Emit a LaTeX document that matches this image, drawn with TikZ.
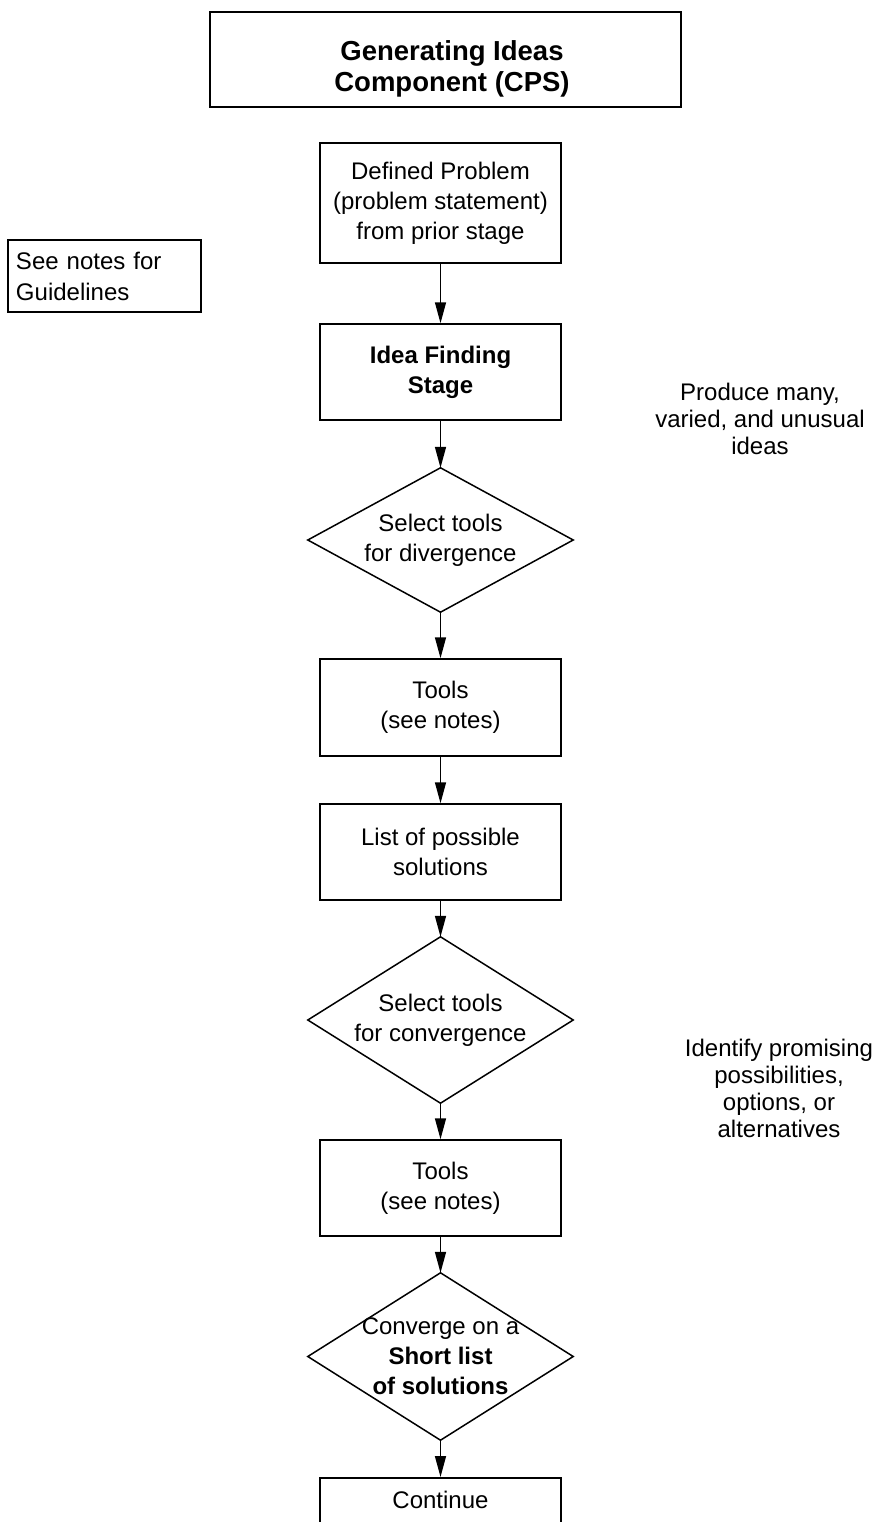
\documentclass[tikz,border=0pt]{standalone}
\usepackage{fontspec}
\setmainfont{Liberation Sans}
\usetikzlibrary{arrows.meta}
\begin{document}
\begin{tikzpicture}[x=1pt,y=-1pt,
  every node/.style={font=\fontsize{24}{30}\selectfont, align=center, inner sep=0pt},
  box/.style={draw, line width=1.5pt, minimum width=241pt},
  dia/.style={minimum width=265pt},
  diaedge/.style={line width=1.5pt, line join=miter},
  side/.style={font=\fontsize{24}{27}\selectfont},
  conn/.style={line width=1.5pt, -{Triangle[length=21pt,width=11pt]}}
]
\useasboundingbox (0,0) rectangle (877,1522);
\clip (0,0) rectangle (877,1522);

% title
\node[draw, line width=1.8pt, minimum width=471pt, minimum height=95pt] (title) at (445.5,59.5) {};
\node[font=\fontsize{27.5}{31}\selectfont\bfseries] (titletext) at (452,69) {Generating Ideas\\Component (CPS)};

% notes box
\node[draw, line width=1.5pt, text width=177pt, inner xsep=8pt, minimum height=72pt, align=left,
      font=\fontsize{24}{31}\selectfont] (notes) at (104.5,276) {See notes for\\Guidelines};

% main column
\node[box, minimum height=120pt] (def) at (440.5,203) {Defined Problem\\(problem statement)\\from prior stage};
\node[box, minimum height=96pt, font=\fontsize{24}{30}\selectfont\bfseries] (idea) at (440.5,372) {Idea Finding\\Stage};
\node[dia, minimum height=144pt] (d1) at (440.5,540) {Select tools\\for divergence};
\node[box, minimum height=97pt] (t1) at (440.5,707.5) {Tools\\(see notes)};
\node[box, minimum height=96pt] (list) at (440.5,852) {List of possible\\solutions};
\node[dia, minimum height=166pt] (d2) at (440.5,1020) {Select tools\\for convergence};
\node[box, minimum height=96pt] (t2) at (440.5,1188) {Tools\\(see notes)};
\node[dia, minimum height=167pt] (d3) at (440.5,1356.5) {Converge on a\\\textbf{Short list}\\\textbf{of solutions}};
\node[box, minimum height=90pt, anchor=north] (cont) at (440.5,1477) {};
\node (conttext) at (440.5,1500) {Continue};

% diamond outlines
\draw[diaedge] (d1.north) -- (d1.east) -- (d1.south) -- (d1.west) -- cycle;
\draw[diaedge] (d2.north) -- (d2.east) -- (d2.south) -- (d2.west) -- cycle;
\draw[diaedge] (d3.north) -- (d3.east) -- (d3.south) -- (d3.west) -- cycle;

% side notes
\node[side] (produce) at (760,419) {Produce many,\\varied, and unusual\\ideas};
\node[side] (identify) at (779,1088) {Identify promising\\possibilities,\\options, or\\alternatives};

% connectors
\draw[conn] (def.south) -- (idea.north);
\draw[conn] (idea.south) -- (d1.north);
\draw[conn] (d1.south) -- (t1.north);
\draw[conn] (t1.south) -- (list.north);
\draw[conn] (list.south) -- (d2.north);
\draw[conn] (d2.south) -- (t2.north);
\draw[conn] (t2.south) -- (d3.north);
\draw[conn] (d3.south) -- (cont.north);
\end{tikzpicture}
\end{document}
